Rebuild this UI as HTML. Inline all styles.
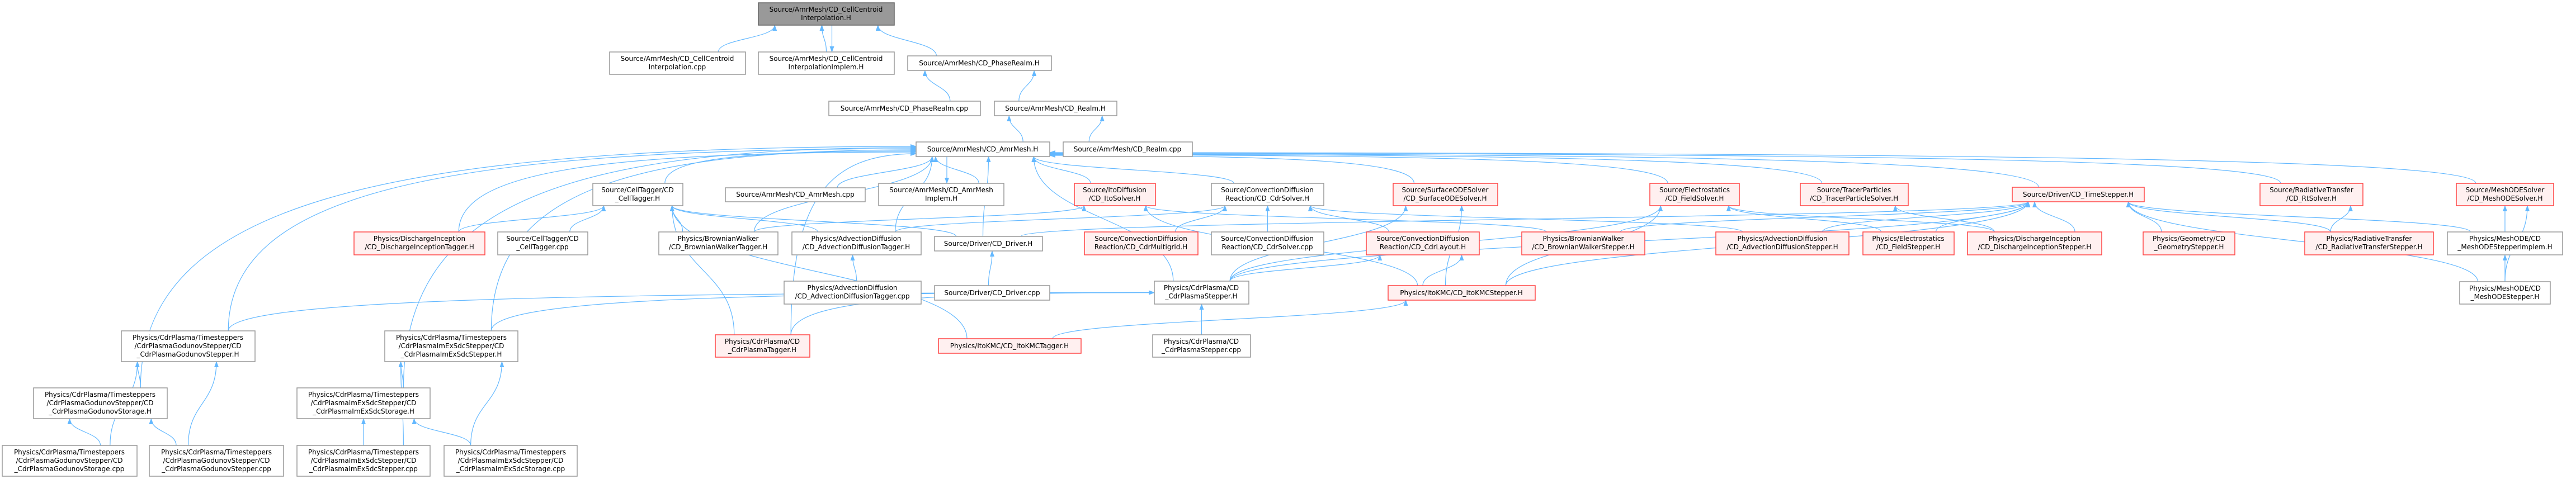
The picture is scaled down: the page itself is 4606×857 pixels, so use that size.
<!DOCTYPE html>
<html><head><meta charset="utf-8">
<style>
html,body{margin:0;padding:0;background:#fff;}
svg{display:block;}
text{font-family:"DejaVu Sans","Liberation Sans",sans-serif;font-size:12px;fill:#000;text-anchor:middle;}
.n rect{fill:#fff;stroke:#999;stroke-width:1.5;}
.r rect{fill:#fff0f0;stroke:#f44;stroke-width:1.5;}
.g rect{fill:#999;stroke:#666;stroke-width:1.5;}
#edges path{fill:none;stroke:#63b8ff;stroke-width:1.2;}
</style></head><body>
<svg id="s" width="4606" height="857" viewBox="0 0 4606 857" xmlns="http://www.w3.org/2000/svg">
<defs><marker id="ah" markerWidth="11" markerHeight="8" refX="10" refY="4" orient="auto" markerUnits="userSpaceOnUse"><path d="M0,0 L11,4 L0,8 z" fill="#63b8ff"/></marker></defs>
<g id="edges"></g>
<g id="nodes">
<g class="g"><rect id="root" x="1356" y="5" width="243" height="40"/><text x="1477" y="21">Source/AmrMesh/CD_CellCentroid</text><text x="1477" y="36">Interpolation.H</text></g>
<g class="n"><rect id="cci_cpp" x="1090" y="93" width="243" height="40"/><text x="1211" y="109">Source/AmrMesh/CD_CellCentroid</text><text x="1211" y="124">Interpolation.cpp</text></g>
<g class="n"><rect id="cci_impl" x="1356" y="93" width="243" height="40"/><text x="1477" y="109">Source/AmrMesh/CD_CellCentroid</text><text x="1477" y="124">InterpolationImplem.H</text></g>
<g class="n"><rect id="phase_h" x="1623" y="100" width="257" height="26"/><text x="1751" y="117">Source/AmrMesh/CD_PhaseRealm.H</text></g>
<g class="n"><rect id="phase_cpp" x="1482" y="181" width="271" height="26"/><text x="1617" y="198">Source/AmrMesh/CD_PhaseRealm.cpp</text></g>
<g class="n"><rect id="realm_h" x="1778" y="181" width="219" height="26"/><text x="1887" y="198">Source/AmrMesh/CD_Realm.H</text></g>
<g class="n"><rect id="amr_h" x="1638" y="254" width="239" height="26"/><text x="1757" y="271">Source/AmrMesh/CD_AmrMesh.H</text></g>
<g class="n"><rect id="realm_cpp" x="1901" y="254" width="231" height="26"/><text x="2016" y="271">Source/AmrMesh/CD_Realm.cpp</text></g>

<g class="n"><rect id="celltag_h" x="1060" y="328" width="161" height="40"/><text x="1140" y="344">Source/CellTagger/CD</text><text x="1140" y="359">_CellTagger.H</text></g>
<g class="n"><rect id="amr_cpp" x="1297" y="336" width="250" height="25"/><text x="1422" y="352">Source/AmrMesh/CD_AmrMesh.cpp</text></g>
<g class="n"><rect id="amr_impl" x="1571" y="328" width="224" height="40"/><text x="1683" y="344">Source/AmrMesh/CD_AmrMesh</text><text x="1683" y="359">Implem.H</text></g>
<g class="r"><rect id="ito_solver" x="1921" y="328" width="145" height="40"/><text x="1993" y="344">Source/ItoDiffusion</text><text x="1993" y="359">/CD_ItoSolver.H</text></g>
<g class="n"><rect id="cdr_solver" x="2166" y="328" width="201" height="40"/><text x="2266" y="344">Source/ConvectionDiffusion</text><text x="2266" y="359">Reaction/CD_CdrSolver.H</text></g>
<g class="r"><rect id="surf" x="2491" y="328" width="187" height="40"/><text x="2584" y="344">Source/SurfaceODESolver</text><text x="2584" y="359">/CD_SurfaceODESolver.H</text></g>
<g class="r"><rect id="field" x="2950" y="328" width="160" height="40"/><text x="3030" y="344">Source/Electrostatics</text><text x="3030" y="359">/CD_FieldSolver.H</text></g>
<g class="r"><rect id="tracer" x="3219" y="328" width="193" height="40"/><text x="3315" y="344">Source/TracerParticles</text><text x="3315" y="359">/CD_TracerParticleSolver.H</text></g>
<g class="r"><rect id="timestep" x="3598" y="335" width="236" height="26"/><text x="3716" y="352">Source/Driver/CD_TimeStepper.H</text></g>
<g class="r"><rect id="rt" x="4041" y="328" width="184" height="40"/><text x="4133" y="344">Source/RadiativeTransfer</text><text x="4133" y="359">/CD_RtSolver.H</text></g>
<g class="r"><rect id="meshode" x="4392" y="328" width="174" height="40"/><text x="4479" y="344">Source/MeshODESolver</text><text x="4479" y="359">/CD_MeshODESolver.H</text></g>

<g class="r"><rect id="di_tagger" x="633" y="415" width="234" height="41"/><text x="750" y="431">Physics/DischargeInception</text><text x="750" y="446">/CD_DischargeInceptionTagger.H</text></g>
<g class="n"><rect id="celltag_cpp" x="890" y="415" width="161" height="41"/><text x="970" y="431">Source/CellTagger/CD</text><text x="970" y="446">_CellTagger.cpp</text></g>
<g class="n"><rect id="bw_tagger" x="1178" y="415" width="213" height="41"/><text x="1284" y="431">Physics/BrownianWalker</text><text x="1284" y="446">/CD_BrownianWalkerTagger.H</text></g>
<g class="n"><rect id="ad_tagger" x="1416" y="415" width="231" height="41"/><text x="1531" y="431">Physics/AdvectionDiffusion</text><text x="1531" y="446">/CD_AdvectionDiffusionTagger.H</text></g>
<g class="n"><rect id="driver_h" x="1671" y="423" width="193" height="26"/><text x="1767" y="440">Source/Driver/CD_Driver.H</text></g>
<g class="r"><rect id="cdr_mg" x="1939" y="415" width="203" height="41"/><text x="2040" y="431">Source/ConvectionDiffusion</text><text x="2040" y="446">Reaction/CD_CdrMultigrid.H</text></g>
<g class="n"><rect id="cdr_cpp" x="2166" y="415" width="201" height="41"/><text x="2266" y="431">Source/ConvectionDiffusion</text><text x="2266" y="446">Reaction/CD_CdrSolver.cpp</text></g>
<g class="r"><rect id="cdr_layout" x="2443" y="415" width="202" height="41"/><text x="2544" y="431">Source/ConvectionDiffusion</text><text x="2544" y="446">Reaction/CD_CdrLayout.H</text></g>
<g class="r"><rect id="bw_stepper" x="2721" y="415" width="220" height="41"/><text x="2831" y="431">Physics/BrownianWalker</text><text x="2831" y="446">/CD_BrownianWalkerStepper.H</text></g>
<g class="r"><rect id="ad_stepper" x="3068" y="415" width="238" height="41"/><text x="3187" y="431">Physics/AdvectionDiffusion</text><text x="3187" y="446">/CD_AdvectionDiffusionStepper.H</text></g>
<g class="r"><rect id="field_stepper" x="3331" y="415" width="163" height="41"/><text x="3412" y="431">Physics/Electrostatics</text><text x="3412" y="446">/CD_FieldStepper.H</text></g>
<g class="r"><rect id="di_stepper" x="3518" y="415" width="240" height="41"/><text x="3638" y="431">Physics/DischargeInception</text><text x="3638" y="446">/CD_DischargeInceptionStepper.H</text></g>
<g class="r"><rect id="geo_stepper" x="3832" y="415" width="164" height="41"/><text x="3914" y="431">Physics/Geometry/CD</text><text x="3914" y="446">_GeometryStepper.H</text></g>
<g class="r"><rect id="rt_stepper" x="4121" y="415" width="230" height="41"/><text x="4236" y="431">Physics/RadiativeTransfer</text><text x="4236" y="446">/CD_RadiativeTransferStepper.H</text></g>
<g class="n"><rect id="meshode_impl" x="4376" y="415" width="206" height="41"/><text x="4479" y="431">Physics/MeshODE/CD</text><text x="4479" y="446">_MeshODEStepperImplem.H</text></g>

<g class="n"><rect id="ad_tagger_cpp" x="1402" y="503" width="245" height="41"/><text x="1524" y="519">Physics/AdvectionDiffusion</text><text x="1524" y="534">/CD_AdvectionDiffusionTagger.cpp</text></g>
<g class="n"><rect id="driver_cpp" x="1671" y="511" width="206" height="26"/><text x="1774" y="528">Source/Driver/CD_Driver.cpp</text></g>
<g class="n"><rect id="cdrp_stepper" x="2064" y="503" width="169" height="41"/><text x="2148" y="519">Physics/CdrPlasma/CD</text><text x="2148" y="534">_CdrPlasmaStepper.H</text></g>
<g class="r"><rect id="itokmc_stepper" x="2482" y="511" width="263" height="26"/><text x="2613" y="528">Physics/ItoKMC/CD_ItoKMCStepper.H</text></g>
<g class="n"><rect id="meshode_stepper" x="4398" y="504" width="162" height="40"/><text x="4479" y="520">Physics/MeshODE/CD</text><text x="4479" y="535">_MeshODEStepper.H</text></g>

<g class="n"><rect id="god_stepper" x="217" y="592" width="239" height="55"/><text x="336" y="608">Physics/CdrPlasma/Timesteppers</text><text x="336" y="623">/CdrPlasmaGodunovStepper/CD</text><text x="336" y="638">_CdrPlasmaGodunovStepper.H</text></g>
<g class="n"><rect id="imex_stepper" x="688" y="592" width="238" height="55"/><text x="807" y="608">Physics/CdrPlasma/Timesteppers</text><text x="807" y="623">/CdrPlasmaImExSdcStepper/CD</text><text x="807" y="638">_CdrPlasmaImExSdcStepper.H</text></g>
<g class="r"><rect id="cdrp_tagger" x="1279" y="599" width="169" height="40"/><text x="1363" y="615">Physics/CdrPlasma/CD</text><text x="1363" y="630">_CdrPlasmaTagger.H</text></g>
<g class="r"><rect id="itokmc_tagger" x="1678" y="606" width="255" height="26"/><text x="1805" y="623">Physics/ItoKMC/CD_ItoKMCTagger.H</text></g>
<g class="n"><rect id="cdrp_cpp" x="2061" y="599" width="175" height="40"/><text x="2148" y="615">Physics/CdrPlasma/CD</text><text x="2148" y="630">_CdrPlasmaStepper.cpp</text></g>

<g class="n"><rect id="god_storage" x="60" y="694" width="239" height="55"/><text x="179" y="710">Physics/CdrPlasma/Timesteppers</text><text x="179" y="725">/CdrPlasmaGodunovStepper/CD</text><text x="179" y="740">_CdrPlasmaGodunovStorage.H</text></g>
<g class="n"><rect id="imex_storage" x="531" y="694" width="238" height="55"/><text x="650" y="710">Physics/CdrPlasma/Timesteppers</text><text x="650" y="725">/CdrPlasmaImExSdcStepper/CD</text><text x="650" y="740">_CdrPlasmaImExSdcStorage.H</text></g>

<g class="n"><rect id="god_storage_cpp" x="4" y="797" width="241" height="55"/><text x="124" y="813">Physics/CdrPlasma/Timesteppers</text><text x="124" y="828">/CdrPlasmaGodunovStepper/CD</text><text x="124" y="843">_CdrPlasmaGodunovStorage.cpp</text></g>
<g class="n"><rect id="god_stepper_cpp" x="267" y="797" width="240" height="55"/><text x="387" y="813">Physics/CdrPlasma/Timesteppers</text><text x="387" y="828">/CdrPlasmaGodunovStepper/CD</text><text x="387" y="843">_CdrPlasmaGodunovStepper.cpp</text></g>
<g class="n"><rect id="imex_stepper_cpp" x="531" y="797" width="238" height="55"/><text x="650" y="813">Physics/CdrPlasma/Timesteppers</text><text x="650" y="828">/CdrPlasmaImExSdcStepper/CD</text><text x="650" y="843">_CdrPlasmaImExSdcStepper.cpp</text></g>
<g class="n"><rect id="imex_storage_cpp" x="794" y="797" width="238" height="55"/><text x="913" y="813">Physics/CdrPlasma/Timesteppers</text><text x="913" y="828">/CdrPlasmaImExSdcStepper/CD</text><text x="913" y="843">_CdrPlasmaImExSdcStorage.cpp</text></g>
</g>
</svg>
<script>
(function(){
function B(id){var r=document.getElementById(id);var x=+r.getAttribute('x'),y=+r.getAttribute('y'),w=+r.getAttribute('width'),h=+r.getAttribute('height');return {x1:x,y1:y,x2:x+w,y2:y+h,cx:x+w/2,cy:y+h/2,w:w,h:h};}
function cl(v,a,b){return Math.max(a,Math.min(b,v));}
var E=[
['cci_cpp','root'],['cci_impl','root',{po:-8}],['root','cci_impl',{rev:1}],['phase_h','root'],
['phase_cpp','phase_h'],['realm_h','phase_h'],
['amr_h','realm_h'],['realm_cpp','realm_h'],
['celltag_h','amr_h',{side:'L',ey:270}],['amr_cpp','amr_h'],['amr_impl','amr_h',{po:-10}],['amr_h','amr_impl',{rev:1}],
['ito_solver','amr_h'],['cdr_solver','amr_h'],['surf','amr_h',{side:'R',ey:278}],['field','amr_h',{side:'R',ey:277}],
['tracer','amr_h',{side:'R',ey:276}],['timestep','amr_h',{side:'R',ey:275}],['rt','amr_h',{side:'R',ey:274}],['meshode','amr_h',{side:'R',ey:273}],
['driver_h','amr_h'],['cdrp_stepper','amr_h'],['ad_tagger','amr_h'],['bw_tagger','amr_h'],
['god_stepper','amr_h',{side:'L',ey:266}],['imex_stepper','amr_h',{side:'L',ey:268}],['god_storage','amr_h',{side:'L',ey:262}],['imex_storage','amr_h',{side:'L',ey:264}],
['di_tagger','amr_h',{side:'L',ey:272}],['cdrp_tagger','amr_h',{side:'L',ey:275}],
['di_tagger','celltag_h'],['celltag_cpp','celltag_h'],['bw_tagger','celltag_h'],['ad_tagger','celltag_h'],['cdrp_tagger','celltag_h'],['itokmc_tagger','celltag_h'],['driver_h','celltag_h'],
['bw_tagger','ito_solver'],['bw_stepper','ito_solver'],['itokmc_stepper','ito_solver'],
['ad_tagger','cdr_solver'],['cdr_mg','cdr_solver'],['cdr_cpp','cdr_solver'],['cdr_layout','cdr_solver'],['ad_stepper','cdr_solver'],
['cdrp_stepper','surf'],['itokmc_stepper','surf'],
['field_stepper','field'],['di_stepper','field'],['cdrp_stepper','field'],['itokmc_stepper','field'],
['di_stepper','tracer'],
['bw_stepper','timestep'],['ad_stepper','timestep'],['field_stepper','timestep'],['di_stepper','timestep'],['geo_stepper','timestep'],['rt_stepper','timestep'],['meshode_impl','timestep'],['meshode_stepper','timestep'],['cdrp_stepper','timestep'],['itokmc_stepper','timestep'],['driver_h','timestep'],
['rt_stepper','rt'],['meshode_impl','meshode'],['meshode_stepper','meshode',{po:40}],['meshode_stepper','meshode_impl'],
['driver_cpp','driver_h'],['ad_tagger_cpp','ad_tagger'],
['cdrp_stepper','cdr_layout'],['itokmc_stepper','cdr_layout'],
['cdrp_cpp','cdrp_stepper'],['god_stepper','cdrp_stepper',{side:'L'}],['imex_stepper','cdrp_stepper',{side:'L'}],['cdrp_tagger','cdrp_stepper',{side:'L'}],
['itokmc_tagger','itokmc_stepper'],
['god_storage','god_stepper'],['god_storage_cpp','god_stepper'],['god_stepper_cpp','god_stepper'],
['god_storage_cpp','god_storage'],['god_stepper_cpp','god_storage'],
['imex_storage','imex_stepper'],['imex_stepper_cpp','imex_stepper'],['imex_storage_cpp','imex_stepper'],
['imex_stepper_cpp','imex_storage'],['imex_storage_cpp','imex_storage']
];
var g=document.getElementById('edges'),ns='http://www.w3.org/2000/svg';
E.forEach(function(e){
 var c=B(e[0]),p=B(e[1]),o=e[2]||{},d;
 if(o.rev){
   var sx=p.cx+10,sy=c.y2,ex=p.cx+10,ey=p.y1;
   d='M'+sx+','+sy+' C'+sx+','+(sy+(ey-sy)/2)+' '+ex+','+(sy+(ey-sy)/2)+' '+ex+','+ey;
 } else if(o.side==='L'||o.side==='R'){
   var sx=cl(p.cx,c.x1+c.w*0.2,c.x2-c.w*0.2),sy=c.y1;
   var ex=o.side==='L'?p.x1:p.x2,ey=o.ey||p.cy;
   d='M'+sx+','+sy+' C'+sx+','+(ey+(sy-ey)*0.25)+' '+(sx+(ex-sx)*0.3)+','+ey+' '+ex+','+ey;
 } else {
   var sx=cl(p.cx,c.x1+c.w*0.2,c.x2-c.w*0.2),sy=c.y1;
   var ex=cl(c.cx+(o.po||0),p.x1+p.w*0.12,p.x2-p.w*0.12),ey=p.y2;
   if(sy<=ey+2){sy=c.y1;}
   var m=(sy-ey)/2;
   d='M'+sx+','+sy+' C'+sx+','+(sy-m)+' '+ex+','+(ey+m)+' '+ex+','+ey;
 }
 var P=document.createElementNS(ns,'path');P.setAttribute('d',d);P.setAttribute('marker-end','url(#ah)');g.appendChild(P);
});
})();
</script>
</body></html>
